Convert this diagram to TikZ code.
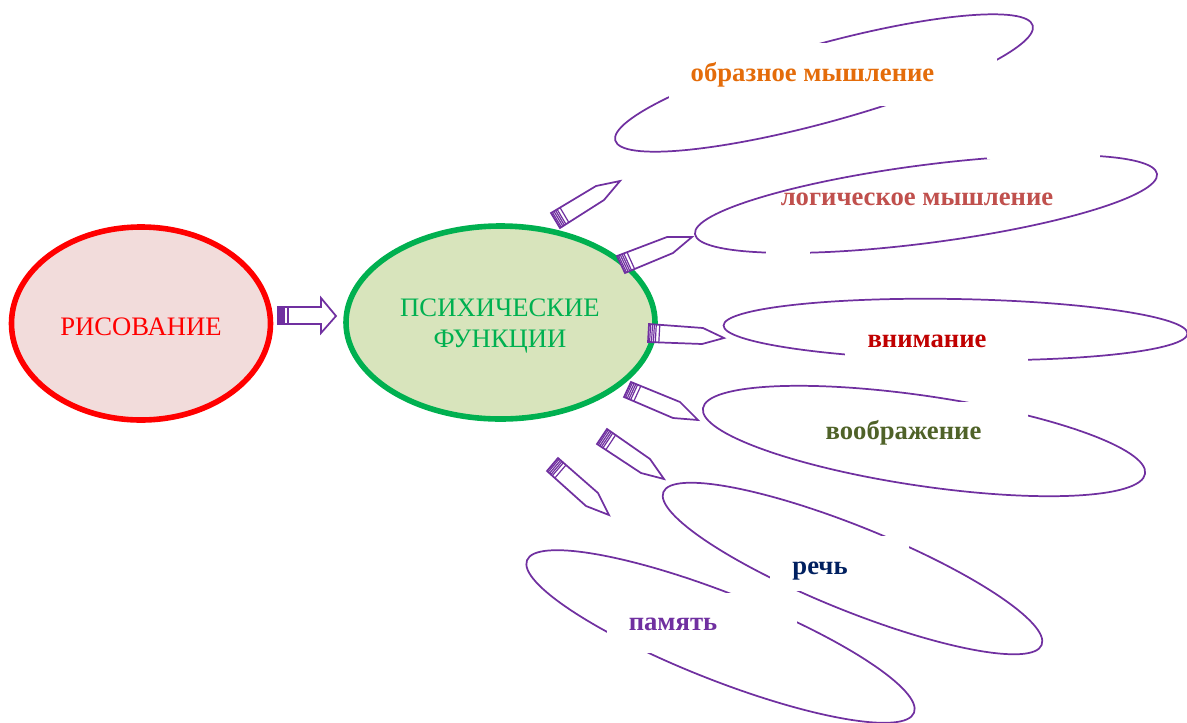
\documentclass[tikz,border=0pt]{standalone}
\usepackage{fontspec}
\setmainfont{Liberation Serif}
\usetikzlibrary{calc, shapes.geometric}
\definecolor{penviolet}{HTML}{7030A0}
\definecolor{drawfill}{HTML}{F2DCDB}
\definecolor{funcfill}{HTML}{D8E4BC}
\definecolor{funcgreen}{HTML}{00B050}
\definecolor{wordorange}{HTML}{E46C0A}
\definecolor{wordrose}{HTML}{C0504D}
\definecolor{wordred}{HTML}{C00000}
\definecolor{wordolive}{HTML}{4F6228}
\definecolor{wordnavy}{HTML}{002060}
\tikzstyle{bigoval} = [ellipse, inner sep=0pt, line width=4.2pt]
\tikzstyle{title} = [inner sep=0pt, align=center, font=\fontsize{20}{23.3}\selectfont]
\tikzstyle{bubble} = [ellipse, inner sep=0pt, draw=penviolet, line width=1.3pt]
\tikzstyle{gap} = [fill=white]
\tikzstyle{word} = [inner sep=0pt, anchor=base, font=\bfseries\fontsize{20}{24}\selectfont]
\tikzstyle{pen} = [draw=penviolet, line width=1.3pt, fill=white, line join=miter]
\tikzstyle{penline} = [draw=penviolet, line width=0.9pt]

\newcommand{\pencil}[5]{%
  \draw[pen] #1 -- #2 -- #3 -- #4 -- #5 -- cycle;
  \foreach \t in {0.03,0.065,0.1,0.135,0.2} \draw[penline] ($#1!\t!#2$) -- ($#5!\t!#4$);
}

\begin{document}
\begin{tikzpicture}[x=0.75pt,y=-0.75pt]
\useasboundingbox (0,0) rectangle (1187,722);

% main ovals
\node[bigoval, draw=red, fill=drawfill, minimum width=259*0.75pt, minimum height=193*0.75pt] (drawing) at (141,323.5) {};
\node[bigoval, draw=funcgreen, fill=funcfill, minimum width=309*0.75pt, minimum height=193*0.75pt] (functions) at (500.5,322.5) {};
\node[title, text=red] (drawingword) at (141,327) {РИСОВАНИЕ};
\node[title, text=funcgreen] (functionsword) at (500,326) {ПСИХИЧЕСКИЕ\\ФУНКЦИИ};

% outer bubbles
\node[bubble, minimum width=433*0.75pt, minimum height=78*0.75pt, rotate=15.4] (figurative) at (824,83) {};
\node[bubble, minimum width=466*0.75pt, minimum height=78*0.75pt, rotate=7.4] (logical) at (926,204) {};
\node[bubble, minimum width=464*0.75pt, minimum height=61*0.75pt, rotate=-1] (attention) at (955.5,329.5) {};
\node[bubble, minimum width=447*0.75pt, minimum height=90*0.75pt, rotate=-8.4] (imagination) at (924,441) {};
\node[bubble, minimum width=416*0.75pt, minimum height=87*0.75pt, rotate=-21.5] (memory) at (720.5,636.5) {};
\node[bubble, minimum width=408*0.75pt, minimum height=84*0.75pt, rotate=-22] (speech) at (852.5,568.5) {};

% white boxes behind the words
\fill[gap] (669,43) rectangle (997,106);
\fill[gap] (987,150) rectangle (1100,158.5);
\fill[gap] (766,240) rectangle (810,260);
\fill[gap] (845,340) rectangle (1028,366);
\fill[gap] (800,402) rectangle (1028,440);
\fill[gap] (607,593) rectangle (797,653);
\fill[gap] (770,536) rectangle (909,591);

% words
\node[word, text=wordorange] (figurativeword) at (812.5,81) {образное мышление};
\node[word, text=wordrose] (logicalword) at (917,205) {логическое мышление};
\node[word, text=wordred] (attentionword) at (927,347) {внимание};
\node[word, text=wordolive] (imaginationword) at (903.5,439) {воображение};
\node[word, text=wordnavy] (speechword) at (820,574) {речь};
\node[word, text=penviolet] (memoryword) at (673,630.5) {память};

% arrows
\draw[pen] (278,307) -- (321,307) -- (321,298) -- (336,316) -- (321,333) -- (321,324) -- (278,324) -- cycle;
\foreach \x in {280,282,284,288} \draw[penline] (\x,307) -- (\x,324);
\pencil{(551,213)}{(596,186)}{(620,181)}{(604,200)}{(560,228)}
\pencil{(617,256)}{(667,237)}{(692,237)}{(673,253)}{(625,273)}
\pencil{(649,324)}{(703,328)}{(724,338)}{(702,344)}{(648,342)}
\pencil{(631,382)}{(680,402)}{(698,420)}{(673,418)}{(624,397)}
\pencil{(607,429)}{(650,459)}{(664,479)}{(641,473)}{(597,444)}
\pencil{(558,458)}{(598,493)}{(609,515)}{(586,506)}{(547,471)}

\end{tikzpicture}
\end{document}
